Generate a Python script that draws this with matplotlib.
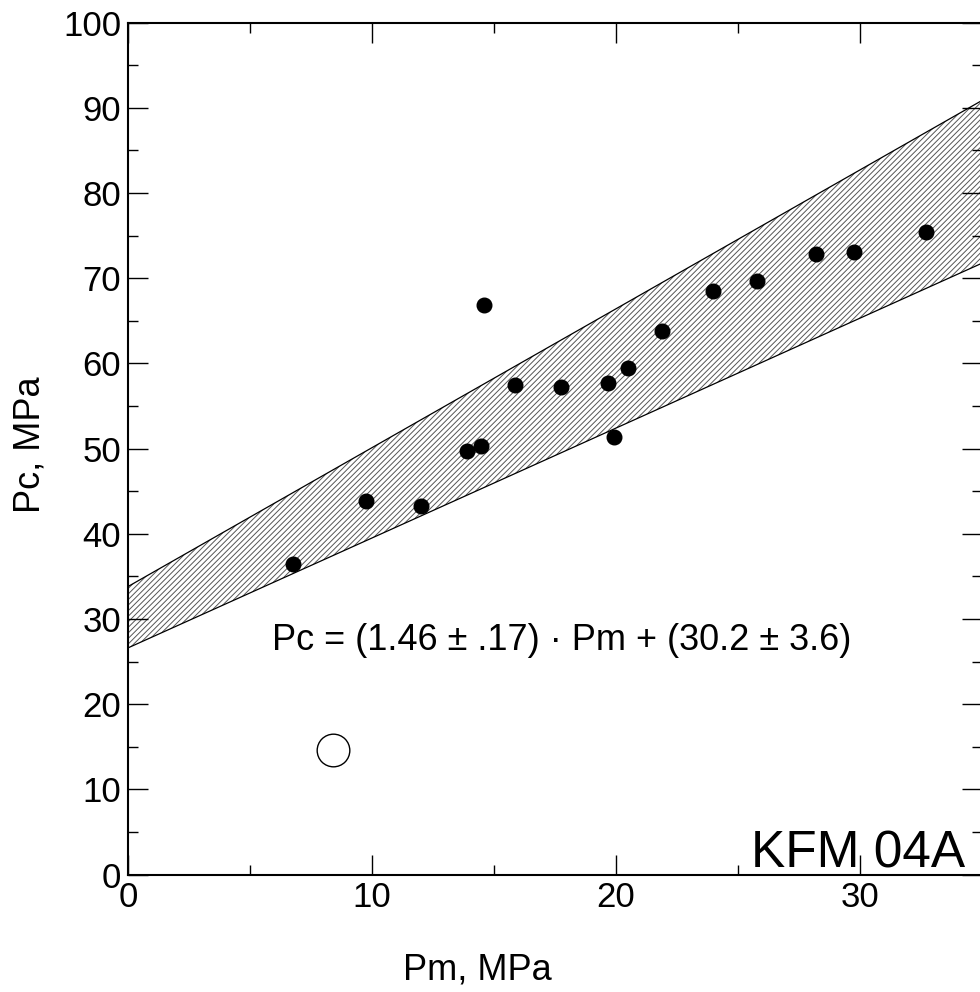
import matplotlib
matplotlib.use("Agg")
import matplotlib.pyplot as plt
import numpy as np

plt.rcParams['font.family'] = ['Liberation Sans', 'DejaVu Sans']
plt.rcParams['hatch.linewidth'] = 0.7

# Data
pm = [6.78, 9.74, 12.0, 13.9, 14.45, 14.6, 15.87, 17.76, 19.66, 19.92,
      20.49, 21.9, 23.98, 25.78, 28.2, 29.75, 32.7]
pc = [36.5, 43.8, 43.2, 49.7, 50.3, 66.8, 57.5, 57.2, 57.7, 51.35,
      59.45, 63.8, 68.5, 69.7, 72.8, 73.1, 75.4]
outlier_pm = [8.4]
outlier_pc = [14.6]

slope, slope_err = 1.46, 0.17
icpt, icpt_err = 30.2, 3.6

fig = plt.figure(figsize=(9.8, 9.92), dpi=100)
ax = fig.add_axes([0.1306, 0.1184, 0.8714, 0.8589])

xs = np.array([0.0, 35.0])
upper = (icpt + icpt_err) + (slope + slope_err) * xs
lower = (icpt - icpt_err) + (slope - slope_err) * xs
ax.fill_between(xs, lower, upper, facecolor='white', edgecolor='#555555',
                hatch='//////', linewidth=0, zorder=1)
ax.plot(xs, upper, color='black', lw=0.9, zorder=2)
ax.plot(xs, lower, color='black', lw=0.9, zorder=2)

ax.plot(pm, pc, 'o', color='black', markersize=10.5, zorder=3)
ax.plot(outlier_pm, outlier_pc, 'o', markerfacecolor='white',
        markeredgecolor='black', markersize=23.5, markeredgewidth=1.0, zorder=3)

ax.set_xlim(0, 35)
ax.set_ylim(0, 100)
ax.set_xticks([0, 10, 20, 30])
ax.set_xticks([5, 15, 25, 35], minor=True)
ax.set_yticks(np.arange(0, 101, 10))
ax.set_yticks(np.arange(5, 100, 10), minor=True)
ax.tick_params(which='both', direction='in', top=True, right=True,
               labelsize=25, width=1.0, color='black')
ax.tick_params(which='major', length=14.5, pad=5)
ax.tick_params(which='minor', length=7.5)
for s in ax.spines.values():
    s.set_linewidth(1.5)

fig.text(477 / 980, 1 - 970 / 992, 'Pm, MPa', fontsize=26, ha='center', va='center')
fig.text(30 / 980, 1 - 445 / 992, 'Pc, MPa', fontsize=26, ha='center', va='center',
         rotation=90)

ax.text(5.9, 27.5, 'Pc = (1.46 \u00b1 .17) \u00b7 Pm + (30.2 \u00b1 3.6)',
        fontsize=26, ha='left', va='center')
ax.text(34.3, 0.8, 'KFM 04A', fontsize=37, ha='right', va='baseline')

fig.savefig('out.png', dpi=100)
